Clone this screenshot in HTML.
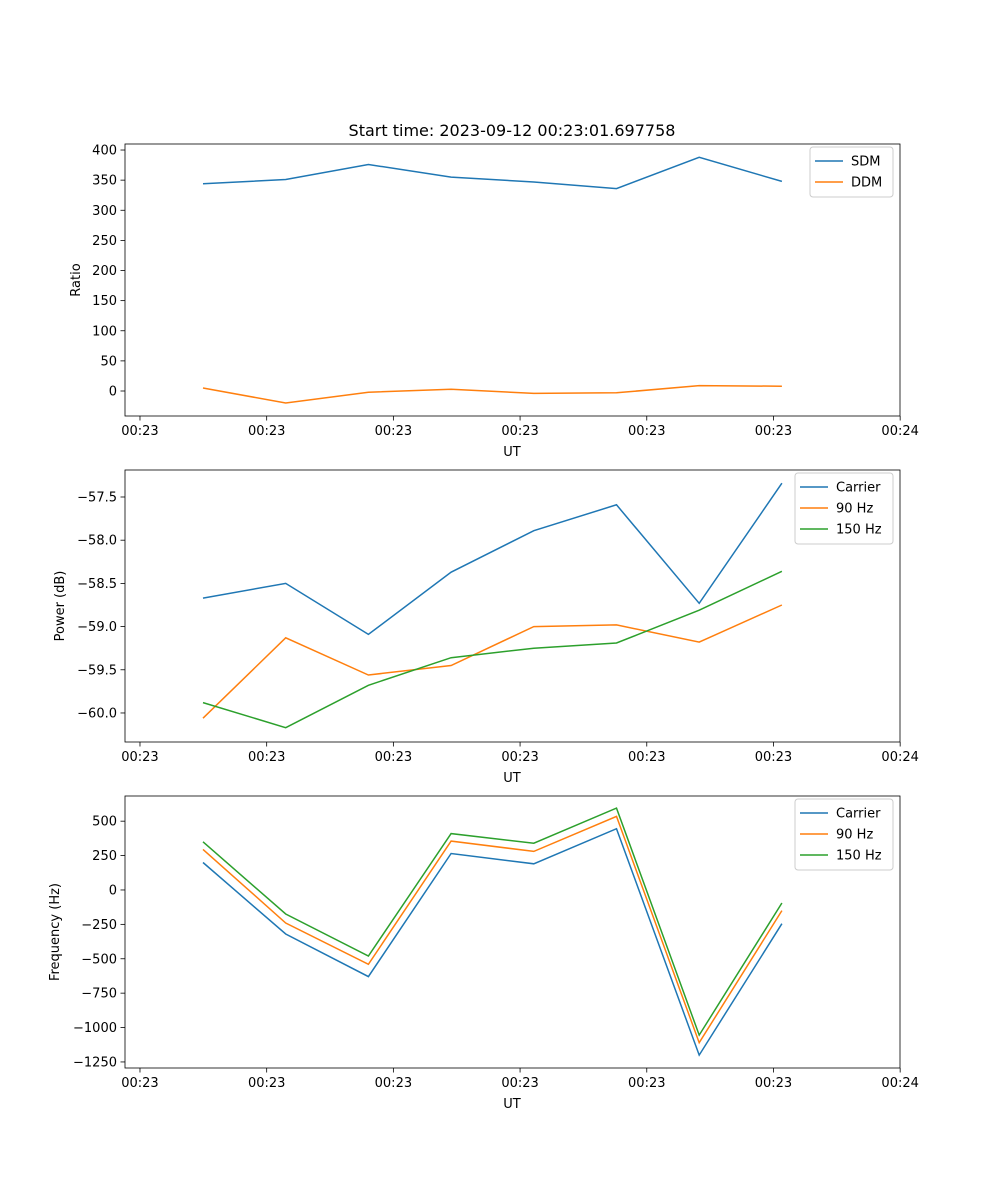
<!DOCTYPE html>
<html><head><meta charset="utf-8"><style>
body{margin:0;background:#fff}
svg{display:block;font-family:"DejaVu Sans","Liberation Sans",sans-serif}
</style></head><body>
<svg id="fig" width="1000" height="1200" viewBox="0 0 1000 1200">
<rect width="1000" height="1200" fill="#fff"/>
<text x="512" y="136" font-size="16" text-anchor="middle">Start time: 2023-09-12 00:23:01.697758</text>
</svg>
<script>
const xIndex=[0,1,2,3,4,5,6,7];
const xTicks=[-0.762,0.770,2.302,3.834,5.366,6.898,8.430];
const xTickLabels=['00:23','00:23','00:23','00:23','00:23','00:23','00:24'];
const sdm=[344,351,376,355,347,336,388,348];
const ddm=[5,-20,-2,3,-4,-3,9,8];
const pCarrier=[-58.67,-58.50,-59.09,-58.37,-57.89,-57.59,-58.73,-57.34];
const p90=[-60.06,-59.13,-59.56,-59.45,-59.00,-58.98,-59.18,-58.75];
const p150=[-59.88,-60.17,-59.68,-59.36,-59.25,-59.19,-58.81,-58.36];
const fCarrier=[200,-320,-630,265,190,445,-1200,-245];
const f90=[295,-240,-540,355,280,535,-1110,-150];
const f150=[350,-175,-480,410,340,595,-1055,-95];
const yTicks1=[0,50,100,150,200,250,300,350,400];
const yTicks2=[-60.0,-59.5,-59.0,-58.5,-58.0,-57.5];
const yTicks3=[-1250,-1000,-750,-500,-250,0,250,500];
const C=['#1f77b4','#ff7f0e','#2ca02c'];
const NS='http://www.w3.org/2000/svg';
const svg=document.getElementById('fig');
function mk(t,a,p){const e=document.createElementNS(NS,t);for(const k in a)e.setAttribute(k,a[k]);(p||svg).appendChild(e);return e;}
const L=125,R=900;
const xs=v=>203+(v-0)*82.7;
function panel(top,bot,ymin,ymax,yt,fmt,ylabel,series,names,leg,idx){
  const g=mk('g',{});
  
  
  const ys=v=>bot-(v-ymin)/(ymax-ymin)*(bot-top);
  series.forEach((s,k)=>{
    const pts=s.map((v,i)=>xs(xIndex[i]).toFixed(1)+','+ys(v).toFixed(1)).join(' ');
    const pl=mk('polyline',{points:pts,fill:'none',stroke:C[k],'stroke-width':1.5},g);
    
    
  });
  const fr=mk('rect',{x:L,y:top,width:R-L,height:bot-top,fill:'none',stroke:'#000','stroke-width':0.8},g);
  
  
  xTicks.forEach((t,i)=>{const x=xs(t);mk('line',{x1:x,x2:x,y1:bot,y2:bot+4.5,stroke:'#000','stroke-width':0.8},g);
    const tx=mk('text',{x:x,y:bot+19,'font-size':13,'text-anchor':'middle'},g);tx.textContent=xTickLabels[i];
    
    });
  yt.forEach(v=>{const y=ys(v);mk('line',{x1:L-4.5,x2:L,y1:y,y2:y,stroke:'#000','stroke-width':0.8},g);
    const tx=mk('text',{x:L-8,y:y+4.5,'font-size':13,'text-anchor':'end'},g);tx.textContent=fmt(v);
    
    });
  const xl=mk('text',{x:512,y:bot+40,'font-size':13,'text-anchor':'middle'},g);xl.textContent='UT';
  
  
  const ylx=leg.yl, yc=(top+bot)/2;
  const yl=mk('text',{x:ylx,y:yc,'font-size':13,'text-anchor':'middle',transform:`rotate(-90 ${ylx} ${yc})`},g);yl.textContent=ylabel;
  
  
  const lg=mk('g',{},g);
  
  
  mk('rect',{x:leg.x,y:top+3,width:R-7-leg.x,height:names.length*21+8,fill:'#fff',stroke:'#ccc',rx:3},lg);
  names.forEach((n,k)=>{const y=top+3+14+k*21;
    mk('line',{x1:leg.x+5,x2:leg.x+33,y1:y,y2:y,stroke:C[k],'stroke-width':1.5},lg);
    const t=mk('text',{x:leg.x+41,y:y+4.5,'font-size':13},lg);t.textContent=n;
    
    });
}
panel(144,416,-41.5,410,yTicks1,v=>v===0?'0':String(v),'Ratio',[sdm,ddm],['SDM','DDM'],{x:810,yl:80},1);
panel(470,742,-60.336,-57.1875,yTicks2,v=>(v<0?'\u2212':'')+Math.abs(v).toFixed(1),'Power (dB)',[pCarrier,p90,p150],['Carrier','90 Hz','150 Hz'],{x:795,yl:64},2);
panel(796,1068,-1294,683,yTicks3,v=>(v<0?'\u2212':'')+Math.abs(v),'Frequency (Hz)',[fCarrier,f90,f150],['Carrier','90 Hz','150 Hz'],{x:795,yl:59},3);
</script>
</body></html>
